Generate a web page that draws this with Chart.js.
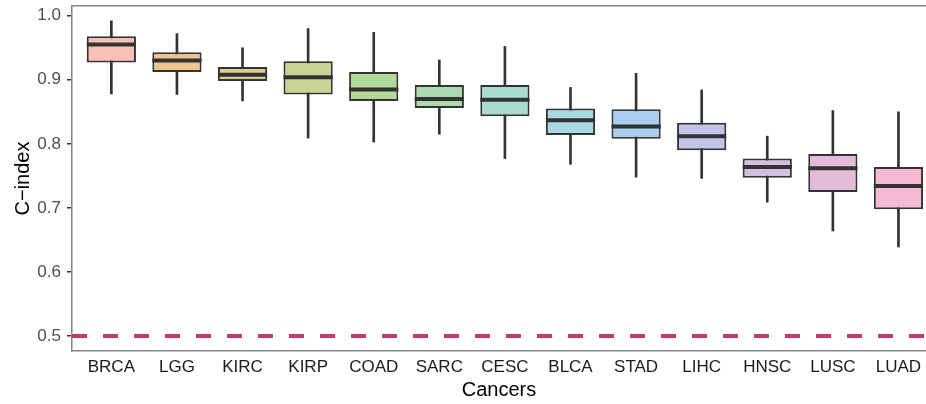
<!DOCTYPE html>
<html>
<head>
<meta charset="utf-8">
<script src="https://cdn.jsdelivr.net/npm/chart.js@4.4.1/dist/chart.umd.min.js"></script>
<style>
  html, body { margin: 0; padding: 0; background: #ffffff; overflow: hidden; }
  #wrap { width: 926px; height: 404px; }
</style>
</head>
<body>
<div id="wrap"><canvas id="c" width="926" height="404"></canvas></div>
<script>
// ---- data ----
const categories  = ['BRCA','LGG','KIRC','KIRP','COAD','SARC','CESC','BLCA','STAD','LIHC','HNSC','LUSC','LUAD'];
const whiskerLow  = [0.878, 0.877, 0.867, 0.809, 0.803, 0.815, 0.777, 0.768, 0.748, 0.746, 0.709, 0.664, 0.639];
const q1          = [0.927, 0.912, 0.898, 0.877, 0.867, 0.856, 0.843, 0.814, 0.808, 0.790, 0.747, 0.725, 0.698];
const medians     = [0.955, 0.930, 0.908, 0.904, 0.885, 0.870, 0.869, 0.837, 0.827, 0.812, 0.764, 0.762, 0.734];
const q3          = [0.968, 0.943, 0.920, 0.929, 0.912, 0.892, 0.892, 0.855, 0.854, 0.833, 0.777, 0.784, 0.764];
const whiskerHigh = [0.992, 0.972, 0.950, 0.980, 0.974, 0.931, 0.952, 0.888, 0.910, 0.884, 0.812, 0.852, 0.850];
const yTickValues = [0.5, 0.6, 0.7, 0.8, 0.9, 1.0];
const refValue    = 0.5;

// ---- styles ----
const boxColors = ['#F9C0B7','#EEC58B','#E1CB8C','#C9D393','#B1D99A','#ACD9B0','#A9DCCF',
                   '#A9D8E3','#AACCEF','#C3C4E8','#D3BFE2','#E4BCDA','#F5B9D3'];
const dark = '#333333';
const FONT = "'Liberation Sans', Arial, Helvetica, sans-serif";
const xMin = -0.6;
const xMax = categories.length - 1 + 0.42;

const boxData     = categories.map((c, i) => ({ x: i, y: [q1[i], q3[i]] }));
const whiskerData = categories.map((c, i) => ({ x: i, y: [whiskerLow[i], whiskerHigh[i]] }));
const medianData  = categories.map((c, i) => ({ x: i, y: medians[i] }));
const refData     = [{ x: xMin, y: refValue }, { x: xMax, y: refValue }];

const noPad = s => { s.paddingTop = 0; s.paddingBottom = 0; s.paddingLeft = 0; s.paddingRight = 0; };

new Chart(document.getElementById('c'), {
  type: 'bar',
  data: {
    datasets: [
      {
        type: 'line', label: 'median', data: medianData, order: 0,
        showLine: false, pointStyle: 'line', pointRadius: 24.6, pointHoverRadius: 24.6,
        pointBorderWidth: 4, pointBorderColor: dark, pointBackgroundColor: dark
      },
      {
        type: 'bar', label: 'box', data: boxData, order: 1, grouped: false,
        backgroundColor: boxColors, borderColor: dark, borderWidth: 2, borderSkipped: false,
        categoryPercentage: 1.0, barPercentage: 0.75
      },
      {
        type: 'bar', label: 'whisker', data: whiskerData, order: 2, grouped: false,
        backgroundColor: dark, borderWidth: 0, barThickness: 2
      },
      {
        type: 'line', label: 'ref', data: refData, order: 3,
        borderColor: '#C93765', borderWidth: 4, borderDash: [15, 16], pointRadius: 0, fill: false
      }
    ]
  },
  options: {
    responsive: false,
    devicePixelRatio: 1,
    animation: false,
    layout: { padding: 0, autoPadding: false },
    plugins: { legend: { display: false }, tooltip: { enabled: false } },
    scales: {
      x: {
        type: 'linear', position: 'bottom', min: xMin, max: xMax, offset: false,
        afterBuildTicks: s => { s.ticks = categories.map((c, i) => ({ value: i })); },
        afterFit: s => { s.height = 53; noPad(s); },
        grid: { display: false, drawTicks: false },
        border: { display: true, color: '#858585', width: 1.5 },
        ticks: {
          autoSkip: false, maxRotation: 0, padding: 6, color: '#1a1a1a',
          font: { family: FONT, size: 17 },
          callback: v => categories[v] ?? ''
        },
        title: {
          display: true, text: 'Cancers', color: '#000000',
          font: { family: FONT, size: 20 }, padding: { top: 0, bottom: 1.5 }
        }
      },
      x2: {
        type: 'linear', position: 'top', min: 0, max: 1,
        afterFit: s => { s.height = 6; noPad(s); },
        grid: { display: false, drawTicks: false },
        ticks: { display: false },
        border: { display: true, color: '#858585', width: 1.5 }
      },
      y: {
        type: 'linear', position: 'left', min: 0.4766, max: 1.0152,
        afterBuildTicks: s => { s.ticks = yTickValues.map(v => ({ value: v })); },
        afterFit: s => { s.width = 72; noPad(s); },
        grid: { drawOnChartArea: false, drawTicks: true, tickLength: 5, color: dark, lineWidth: 1.5 },
        border: { display: true, color: '#858585', width: 1.5 },
        ticks: {
          padding: 6, color: '#4d4d4d', font: { family: FONT, size: 17 },
          callback: v => Number(v).toFixed(1)
        },
        title: {
          display: true, text: 'C−index', color: '#000000',
          font: { family: FONT, size: 20 }, padding: { top: 11, bottom: 0 }
        }
      }
    }
  }
});
</script>
</body>
</html>
